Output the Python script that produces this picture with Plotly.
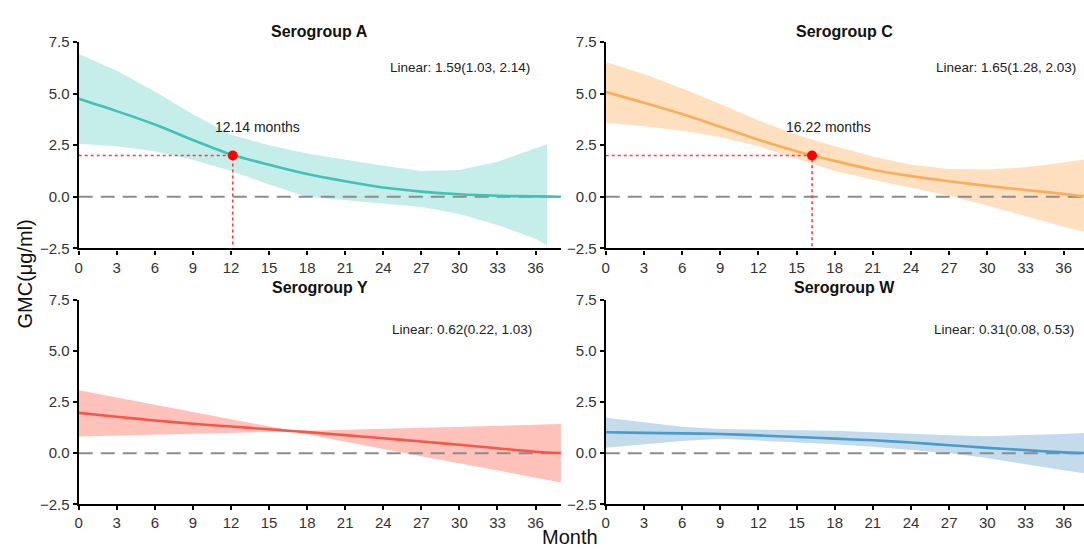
import plotly.graph_objects as go

# ---------------- data ----------------
MONTH_TICKS = [0, 3, 6, 9, 12, 15, 18, 21, 24, 27, 30, 33, 36]
GMC_TICKS = [-2.5, 0.0, 2.5, 5.0, 7.5]
THRESHOLD = 2.0

# Serogroup A
A_FIT_MONTHS = [0, 3, 6, 9, 12, 15, 18, 21, 24, 27, 30, 33, 36, 38]
A_FIT = [4.75, 4.15, 3.5, 2.75, 2.05, 1.55, 1.1, 0.75, 0.45, 0.25, 0.12, 0.05, 0.02, 0.0]
A_BAND_MONTHS = [0, 3, 6, 9, 12, 15, 18, 21, 24, 27, 30, 33, 36, 36.9]
A_UPPER = [6.92, 6.1, 5.1, 4.0, 3.0, 2.5, 2.1, 1.8, 1.5, 1.25, 1.3, 1.7, 2.35, 2.55]
A_LOWER = [2.57, 2.45, 2.2, 1.8, 1.25, 0.6, 0.0, -0.15, -0.33, -0.5, -0.83, -1.37, -2.03, -2.35]
A_CROSS = 12.14
A_LINEAR = "Linear: 1.59(1.03, 2.14)"

# Serogroup C
C_MONTHS = [0, 3, 6, 9, 12, 15, 18, 21, 24, 27, 30, 33, 36, 38]
C_FIT = [5.07, 4.56, 4.01, 3.39, 2.76, 2.21, 1.74, 1.31, 1.0, 0.75, 0.53, 0.33, 0.14, 0.0]
C_UPPER = [6.53, 5.95, 5.25, 4.5, 3.7, 3.0, 2.45, 1.95, 1.55, 1.35, 1.32, 1.43, 1.66, 1.85]
C_LOWER = [3.59, 3.42, 3.2, 2.9, 2.45, 1.85, 1.25, 0.82, 0.45, 0.05, -0.42, -0.95, -1.45, -1.75]
C_CROSS = 16.22
C_LINEAR = "Linear: 1.65(1.28, 2.03)"

# Serogroup Y
Y_MONTHS = [0, 3, 6, 9, 12, 15, 17, 18, 21, 24, 27, 30, 33, 36, 38]
Y_FIT = [1.97, 1.78, 1.6, 1.44, 1.3, 1.17, 1.07, 1.03, 0.88, 0.73, 0.57, 0.41, 0.24, 0.07, 0.0]
Y_UPPER = [3.08, 2.72, 2.36, 2.0, 1.65, 1.3, 1.07, 1.1, 1.15, 1.2, 1.25, 1.3, 1.35, 1.4, 1.42]
Y_LOWER = [0.82, 0.87, 0.92, 0.96, 1.0, 1.04, 1.07, 0.93, 0.55, 0.2, -0.15, -0.5, -0.85, -1.2, -1.43]
Y_LINEAR = "Linear: 0.62(0.22, 1.03)"

# Serogroup W
W_MONTHS = [0, 3, 6, 9, 12, 15, 18, 21, 24, 27, 30, 33, 36, 38]
W_FIT = [1.02, 0.99, 0.97, 0.94, 0.87, 0.79, 0.71, 0.63, 0.52, 0.39, 0.26, 0.15, 0.04, 0.0]
W_UPPER = [1.73, 1.5, 1.29, 1.18, 1.15, 1.13, 1.1, 1.02, 0.94, 0.87, 0.83, 0.87, 0.94, 1.0]
W_LOWER = [0.26, 0.44, 0.6, 0.71, 0.63, 0.55, 0.44, 0.31, 0.15, 0.0, -0.24, -0.55, -0.84, -1.02]
W_LINEAR = "Linear: 0.31(0.08, 0.53)"

TITLES = ["Serogroup A", "Serogroup C", "Serogroup Y", "Serogroup W"]

# ---------------- styling ----------------
W_PX, H_PX = 1084, 553
FONT = "Liberation Sans, Arial, sans-serif"
TEAL, TEAL_BAND = "#40C2B6", "rgba(64,194,182,0.30)"
ORANGE, ORANGE_BAND = "#F9AE5C", "rgba(253,178,100,0.40)"
RED, RED_BAND = "#F6574A", "rgba(255,120,105,0.45)"
BLUE, BLUE_BAND = "#4A9ACB", "rgba(100,160,205,0.38)"


def px_x(p):
    return p / W_PX


def px_y(p):
    return 1 - p / H_PX


X_LEFT = (px_x(75), px_x(559))
X_RIGHT = (px_x(604), 1.0)
Y_TOP = (px_y(247), px_y(34))
Y_BOT = (px_y(511), px_y(300))

fig = go.Figure()

panels = [
    dict(ax="", dom=(X_LEFT, Y_TOP), xr=[0, 38], fitm=A_FIT_MONTHS, fit=A_FIT, bandm=A_BAND_MONTHS,
         up=A_UPPER, lo=A_LOWER, col=TEAL, band=TEAL_BAND, cross=A_CROSS, labx=14.1, lin=A_LINEAR,
         linx=35.7, liny=6.28, title=TITLES[0], ty=px_y(23)),
    dict(ax="2", dom=(X_RIGHT, Y_TOP), xr=[0, 37.6], fitm=C_MONTHS, fit=C_FIT, bandm=C_MONTHS,
         up=C_UPPER, lo=C_LOWER, col=ORANGE, band=ORANGE_BAND, cross=C_CROSS, labx=17.5, lin=C_LINEAR,
         linx=37.1, liny=6.28, title=TITLES[1], ty=px_y(23)),
    dict(ax="3", dom=(X_LEFT, Y_BOT), xr=[0, 38], fitm=Y_MONTHS, fit=Y_FIT, bandm=Y_MONTHS,
         up=Y_UPPER, lo=Y_LOWER, col=RED, band=RED_BAND, cross=None, labx=None, lin=Y_LINEAR,
         linx=35.9, liny=6.03, title=TITLES[2], ty=px_y(287)),
    dict(ax="4", dom=(X_RIGHT, Y_BOT), xr=[0, 37.6], fitm=W_MONTHS, fit=W_FIT, bandm=W_MONTHS,
         up=W_UPPER, lo=W_LOWER, col=BLUE, band=BLUE_BAND, cross=None, labx=None, lin=W_LINEAR,
         linx=37.0, liny=6.03, title=TITLES[3], ty=px_y(287)),
]

annotations = []
layout_axes = {}
for p in panels:
    xa, ya = "x" + p["ax"], "y" + p["ax"]
    fig.add_trace(go.Scatter(x=p["bandm"], y=p["up"], xaxis=xa, yaxis=ya, mode="lines",
                             line=dict(width=0, color=p["band"]), showlegend=False, hoverinfo="skip"))
    fig.add_trace(go.Scatter(x=p["bandm"], y=p["lo"], xaxis=xa, yaxis=ya, mode="lines",
                             line=dict(width=0, color=p["band"]), fill="tonexty",
                             fillcolor=p["band"], showlegend=False, hoverinfo="skip"))
    fig.add_trace(go.Scatter(x=[0, p["xr"][1]], y=[0, 0], xaxis=xa, yaxis=ya, mode="lines",
                             line=dict(color="#8C8C8C", width=2, dash="14px,8px"),
                             showlegend=False, hoverinfo="skip"))
    fig.add_trace(go.Scatter(x=p["fitm"], y=p["fit"], xaxis=xa, yaxis=ya, mode="lines",
                             line=dict(color=p["col"], width=2.6, shape="spline", smoothing=0.8),
                             showlegend=False))
    if p["cross"] is not None:
        fig.add_trace(go.Scatter(x=[0, p["cross"], p["cross"]], y=[THRESHOLD, THRESHOLD, -2.4],
                                 xaxis=xa, yaxis=ya, mode="lines",
                                 line=dict(color="#FF3B3B", width=1.6, dash="3px,3px"),
                                 showlegend=False, hoverinfo="skip"))
        fig.add_trace(go.Scatter(x=[p["cross"]], y=[THRESHOLD], xaxis=xa, yaxis=ya, mode="markers",
                                 marker=dict(color="#FF0000", size=10), showlegend=False))
        annotations.append(dict(x=p["labx"], y=3.37, xref=xa, yref=ya,
                                text=f"{p['cross']:.2f} months", showarrow=False,
                                xanchor="center", yanchor="middle",
                                font=dict(size=14, color="#222222", family=FONT)))
    annotations.append(dict(x=p["linx"], y=p["liny"], xref=xa, yref=ya, xanchor="right",
                            yanchor="middle", text=p["lin"], showarrow=False,
                            font=dict(size=13.5, color="#222222", family=FONT)))
    annotations.append(dict(x=(p["dom"][0][0] + p["dom"][0][1]) / 2, y=p["ty"], xref="paper",
                            yref="paper", text="<b>" + p["title"] + "</b>", showarrow=False,
                            xanchor="center", yanchor="middle",
                            font=dict(size=16, color="#111111", family=FONT)))
    axis_common = dict(showline=True, linecolor="black", linewidth=2.2, ticks="outside",
                       ticklen=4, tickwidth=1.5, tickcolor="black", showgrid=False,
                       zeroline=False, tickfont=dict(size=15, color="#333333", family=FONT))
    layout_axes["xaxis" + p["ax"]] = dict(domain=list(p["dom"][0]), range=p["xr"],
                                          anchor=ya, tickvals=MONTH_TICKS, **axis_common)
    layout_axes["yaxis" + p["ax"]] = dict(domain=list(p["dom"][1]), range=[-2.5, 7.5],
                                          anchor=xa, tickvals=GMC_TICKS, tickformat=".1f",
                                          **axis_common)

annotations.append(dict(x=px_x(568), y=px_y(545), xref="paper", yref="paper", text="Month",
                        xanchor="center", yanchor="middle", showarrow=False,
                        font=dict(size=20, color="#111111", family=FONT)))
annotations.append(dict(x=px_x(21), y=px_y(273), xref="paper", yref="paper", text="GMC(μg/ml)",
                        xanchor="center", yanchor="middle", textangle=-90, showarrow=False,
                        font=dict(size=20, color="#111111", family=FONT)))

fig.update_layout(width=W_PX, height=H_PX, margin=dict(l=0, r=0, t=0, b=0),
                  paper_bgcolor="white", plot_bgcolor="white", annotations=annotations,
                  font=dict(family=FONT), **layout_axes)

fig.write_html("out.html", config={"displayModeBar": False},
               post_script="document.body.style.margin='0';document.body.style.overflow='hidden';")
